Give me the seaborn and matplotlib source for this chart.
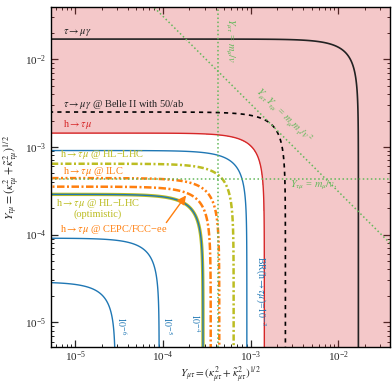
import numpy as np
import matplotlib
matplotlib.use("Agg")
import matplotlib.pyplot as plt
import seaborn as sns

# values
br_contours = [1e-6, 1e-5, 1e-4, 1e-3]          # blue BR(h->tau mu) contours
br_h_now = 2.5e-3                               # current h->tau mu bound (red)
br_hllhc = 5.0e-4                               # HL-LHC projection
br_ilc = 2.35e-4                                # ILC projection
br_cepc = 1.5e-4                                # CEPC/FCC-ee projection
br_hllhc_opt = 1.0e-4                           # HL-LHC optimistic
y_tmg_now = 1.7e-2                              # tau->mu gamma bound on (Y^2+Y^2)^1/2
y_tmg_belle = 2.5e-3                            # Belle II 50/ab
m_h, gamma_sm = 125.0, 4.1e-3
m_mu, m_tau, vev = 0.1057, 1.777, 246.0

c_blue = "#1f77b4"
c_red = "#d62728"
c_olive = "#bcbd22"
c_orange = "#ff7f0e"
c_green = "#62b85a"

sns.set_style("ticks")
plt.rcParams["font.family"] = ["Liberation Serif", "DejaVu Serif"]
plt.rcParams["mathtext.fontset"] = "stix"

fig = plt.figure(figsize=(3.92, 3.85), dpi=100)
ax = fig.add_axes([51 / 392, 1 - 347 / 385, 339 / 392, 340 / 385])

g = np.logspace(-6.5, -0.8, 900)
X, Y = np.meshgrid(g, g)
R = np.sqrt(X**2 + Y**2)
width = m_h * R**2 / (8 * np.pi)
BR = width / (width + gamma_sm)

# excluded region (outside current h->tau mu bound)
ax.contourf(X, Y, BR, levels=[br_h_now, 1.0], colors=[c_red], alpha=0.25)

# projections
ax.contour(X, Y, BR, levels=[br_hllhc_opt], colors=[c_olive], linewidths=2.4)
ax.contour(X, Y, BR, levels=br_contours, colors=[c_blue], linewidths=1.0)
ax.contour(X, Y, BR, levels=[br_cepc], colors=[c_orange], linewidths=1.8,
           linestyles=[(0, (3.0, 1.0, 0.8, 1.0))])
ax.contour(X, Y, BR, levels=[br_ilc], colors=[c_orange], linewidths=1.8,
           linestyles=[(0, (2.5, 1.0, 0.8, 1.0, 0.8, 1.0))])
ax.contour(X, Y, BR, levels=[br_hllhc], colors=[c_olive], linewidths=1.8,
           linestyles=[(0, (2.5, 1.0, 0.8, 1.0))])
ax.contour(X, Y, BR, levels=[br_h_now], colors=[c_red], linewidths=1.0)

# tau -> mu gamma
ax.contour(X, Y, R, levels=[y_tmg_belle], colors=["black"], linewidths=1.2,
           linestyles=[(0, (2.5, 2.5))])
ax.contour(X, Y, R, levels=[y_tmg_now], colors=["#222222"], linewidths=1.2)

# naturalness reference lines
ax.axhline(m_mu / vev, color=c_green, ls=":", lw=1.1)
ax.axvline(m_mu / vev, color=c_green, ls=":", lw=1.1)
xs = np.logspace(-6.5, -0.8, 60)
sns.lineplot(x=xs, y=m_mu * m_tau / vev**2 / xs, ax=ax, color=c_green,
             linestyle=":", lw=1.1)

ax.set_xscale("log")
ax.set_yscale("log")
ax.set_xlim(5.3e-6, 3.9e-2)
ax.set_ylim(5.2e-6, 3.95e-2)

fs = 7.5
ax.text(7.3e-6, 2.0e-2, r"$\tau\to\mu\gamma$", color="#222222", fontsize=fs, va="center")
ax.text(7.3e-6, 3.04e-3, r"$\tau\to\mu\gamma$ @ Belle II with 50/ab", color="#222222",
        fontsize=fs, va="center")
ax.text(7.3e-6, 1.81e-3, r"h$\to\tau\mu$", color=c_red, fontsize=fs, va="center")
ax.text(6.8e-6, 8.1e-4, "h$\\to\\tau\\mu$ @ HL\u2212LHC", color=c_olive, fontsize=fs, va="center")
ax.text(7.3e-6, 5.2e-4, r"h$\to\tau\mu$ @ ILC", color=c_orange, fontsize=fs, va="center")
ax.text(1.82e-5, 2.01e-4, "h$\\to\\tau\\mu$ @ HL\u2212LHC\n(optimistic)", color=c_olive,
        fontsize=fs, va="center", ha="center", multialignment="center", linespacing=0.95)
ax.text(6.8e-6, 1.15e-4, "h$\\to\\tau\\mu$ @ CEPC/FCC\u2212ee", color=c_orange,
        fontsize=fs, va="center")
ax.annotate("", xy=(1.92e-4, 2.96e-4), xytext=(1.05e-4, 1.29e-4),
            arrowprops=dict(arrowstyle="-|>", color=c_orange, lw=1.0, mutation_scale=13))

# BR contour labels
ax.text(3.42e-5, 9.0e-6, r"$10^{-6}$", color=c_blue, fontsize=7, rotation=-90,
        ha="center", va="center")
ax.text(1.14e-4, 9.2e-6, r"$10^{-5}$", color=c_blue, fontsize=7, rotation=-90,
        ha="center", va="center")
ax.text(2.37e-4, 9.7e-6, r"$10^{-4}$", color=c_blue, fontsize=7, rotation=-90,
        ha="center", va="center")
ax.text(1.3e-3, 2.23e-5, r"BR(h$\to\tau\mu$)=$10^{-3}$", color=c_blue, fontsize=7,
        rotation=-90, ha="center", va="center")

# reference line labels
ax.text(5.77e-4, 1.63e-2, r"$Y_{\mu\tau}$ = $m_\mu/v$", color=c_green, fontsize=fs,
        rotation=-90, ha="center", va="center")
ax.text(2.4e-3, 2.32e-3, r"$Y_{\mu\tau}Y_{\tau\mu}$ = $m_\mu m_\tau/v^2$", color=c_green,
        fontsize=fs, rotation=-44, ha="center", va="center", rotation_mode="anchor")
ax.text(2.85e-3, 3.65e-4, r"$Y_{\tau\mu}$ = $m_\mu/v.$", color=c_green, fontsize=fs,
        ha="left", va="center")

ax.set_xlabel(r"$Y_{\mu\tau} = (\kappa_{\mu\tau}^2+\tilde\kappa_{\mu\tau}^2)^{1/2}$",
              fontsize=8, labelpad=0)
ax.set_ylabel(r"$Y_{\tau\mu} = (\kappa_{\tau\mu}^2+\tilde\kappa_{\tau\mu}^2)^{1/2}$",
              fontsize=8.5, labelpad=3)
ax.tick_params(which="both", direction="in", top=True, right=True, labelsize=8)
ax.tick_params(axis="x", which="major", pad=1.5)
ax.tick_params(which="major", length=5, width=0.9)
ax.tick_params(which="minor", length=2.5, width=0.7)
for s in ax.spines.values():
    s.set_linewidth(1.0)
    s.set_color("black")

fig.savefig("out.png", dpi=100)
